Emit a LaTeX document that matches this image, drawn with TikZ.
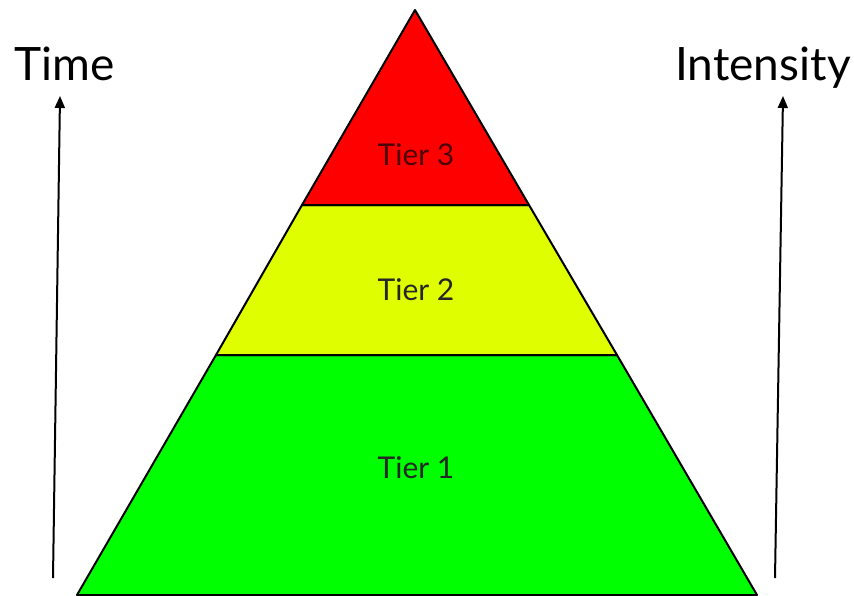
\documentclass[tikz,border=0pt]{standalone}
\usepackage{fontspec}
\setmainfont{Lato}
\usetikzlibrary{arrows.meta}
\definecolor{tierred}{HTML}{FF0000}
\definecolor{tieryellow}{HTML}{DFFF00}
\definecolor{tiergreen}{HTML}{00FF00}
\begin{document}
\begin{tikzpicture}[x=1pt,y=-1pt,
  tierfill/.style={draw=black,line width=2pt,line join=round},
  tierlabel/.style={font=\fontsize{30}{31}\selectfont},
  axislabel/.style={font=\fontsize{46}{48}\selectfont,text=black},
  axisarrow/.style={line width=2pt,-{Triangle[length=12pt,width=10pt]}}]
\useasboundingbox (0,0) rectangle (854,595);
% pyramid
\path[tierfill,fill=tiergreen] (216,355) -- (617,355) -- (757,595) -- (77,595) -- cycle;
\path[tierfill,fill=tieryellow] (302,205) -- (529,205) -- (617,355) -- (216,355) -- cycle;
\path[tierfill,fill=tierred] (415,10) -- (529,205) -- (302,205) -- cycle;
\node[tierlabel,text=red!30!black] (t3) at (416,155) {Tier 3};
\node[tierlabel,text=black!85] (t2) at (416,290) {Tier 2};
\node[tierlabel,text=black!85] (t1) at (416,468) {Tier 1};
% axes
\node[axislabel,anchor=base] (time) at (65,80) {Time};
\node[axislabel,anchor=base] (intensity) at (763,80) {Intensity};
\coordinate (tb) at (53,578);
\coordinate (tt) at (60,96);
\coordinate (ib) at (775,578);
\coordinate (it) at (783,96);
\draw[axisarrow] (tb) -- (tt);
\draw[axisarrow] (ib) -- (it);
\end{tikzpicture}
\end{document}
